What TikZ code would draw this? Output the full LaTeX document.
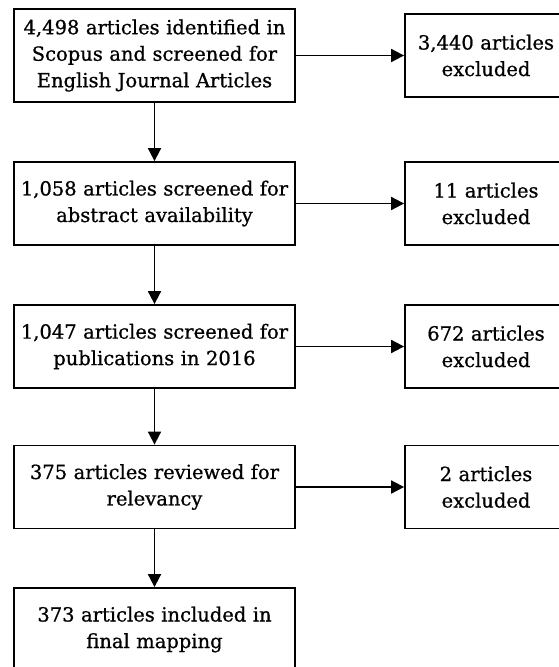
\documentclass[tikz,border=0pt]{standalone}
\usepackage{fontspec}
\setmainfont{DejaVu Serif}[RawFeature={embolden=0.8}]
\usetikzlibrary{arrows.meta}
\begin{document}
\begin{tikzpicture}[x=1pt,y=-1pt,
  mainbox/.style={draw, line width=1.8pt, align=center, text width=277pt, inner xsep=2pt, inner ysep=0pt, minimum height=83pt, font=\fontsize{19.5}{26.5}\selectfont},
  sidebox/.style={draw, line width=1.8pt, align=center, text width=158pt, inner xsep=2pt, inner ysep=0pt, minimum height=83pt, font=\fontsize{19.5}{26.5}\selectfont},
  conn/.style={line width=1.8pt, -{Triangle[length=13pt,width=13pt]}}]
\useasboundingbox (0,0) rectangle (559,667);
\clip (0,0) rectangle (559,667);
\node[mainbox, minimum height=93pt] (m1) at (154.5,55.5) {4,498 articles identified in\\Scopus and screened for\\English Journal Articles};
\node[mainbox] (m2) at (154.5,203.5) {1,058 articles screened for\\abstract availability};
\node[mainbox] (m3) at (154.5,346.5) {1,047 articles screened for\\publications in 2016};
\node[mainbox] (m4) at (154.5,487) {375 articles reviewed for\\relevancy};
\node[mainbox] (m5) at (154.5,629.5) {373 articles included in\\final mapping};
\node[sidebox] (s1) at (486,55.5) {3,440 articles\\excluded};
\node[sidebox] (s2) at (486,203.5) {11 articles\\excluded};
\node[sidebox] (s3) at (486,346.5) {672 articles\\excluded};
\node[sidebox] (s4) at (486,487) {2 articles\\excluded};
\draw[conn] (m1) -- (m2);
\draw[conn] (m2) -- (m3);
\draw[conn] (m3) -- (m4);
\draw[conn] (m4) -- (m5);
\draw[conn] (m1) -- (s1);
\draw[conn] (m2) -- (s2);
\draw[conn] (m3) -- (s3);
\draw[conn] (m4) -- (s4);
\end{tikzpicture}
\end{document}
